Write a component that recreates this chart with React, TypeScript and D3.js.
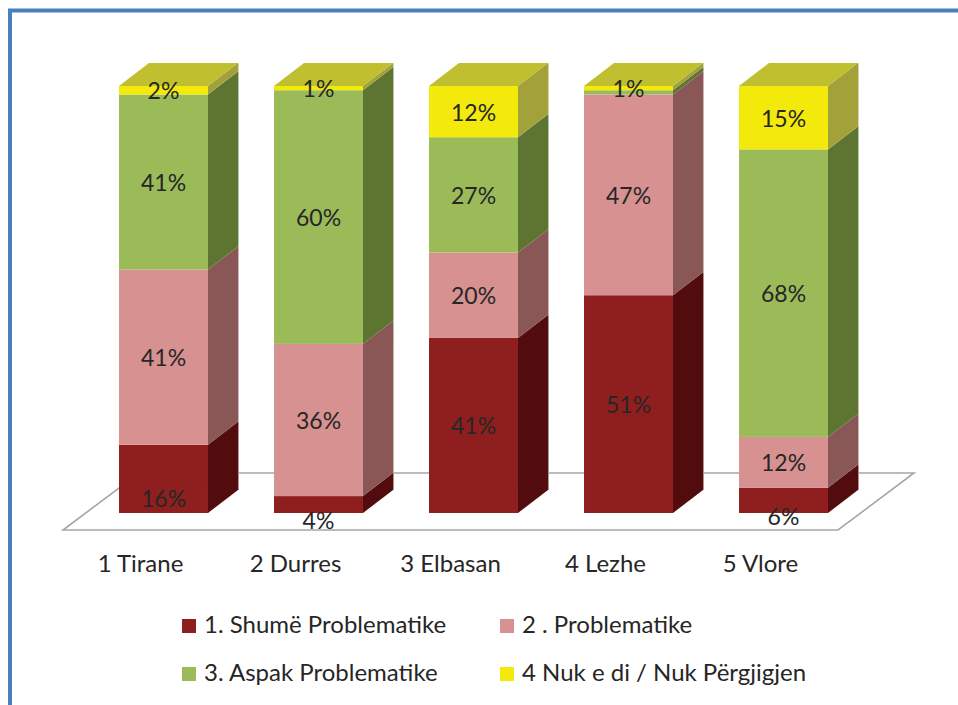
import React from "react";
import * as d3 from "d3";

const categories = ["1 Tirane", "2 Durres", "3 Elbasan", "4 Lezhe", "5 Vlore"];
const seriesNames = [
  "1. Shumë Problematike",
  "2 . Problematike",
  "3. Aspak Problematike",
  "4 Nuk e di / Nuk Përgjigjen",
];
const shumeProblematike = [16, 4, 41, 51, 6];
const problematike = [41, 36, 20, 47, 12];
const aspakProblematike = [41, 60, 27, 1, 68];
const nukDi = [2, 1, 12, 1, 15];

const frontColors = ["#8F1F1F", "#D79190", "#9BBB59", "#F3EA0C"];
const sideColors = ["#520C0D", "#8A5757", "#5E7532", "#A3A23A"];
const topColors = ["#6E1818", "#B07474", "#7E9B40", "#BFBF30"];

const W = 958;
const H = 705;
const FONT = "Lato, 'Open Sans', sans-serif";
const TEXT = "#262626";

// 3D projection offsets
const DEPTH_X = 30;
const DEPTH_Y = 23;
const FLOOR_FRONT = { dx: -23, dy: 17 };
const FLOOR_BACK = { dx: 53, dy: -40 };

export default function App() {
  const seriesValues = [shumeProblematike, problematike, aspakProblematike, nukDi];
  const rows = categories.map((c, i) => {
    const r: any = { cat: c };
    seriesNames.forEach((s, k) => (r[s] = seriesValues[k][i]));
    return r;
  });
  const stacked = d3.stack<any>().keys(seriesNames).offset(d3.stackOffsetExpand)(rows);

  const x = d3
    .scaleBand<string>()
    .domain(categories)
    .range([86, 861])
    .paddingInner(0.426)
    .paddingOuter(0.213);
  const y = d3.scaleLinear().domain([0, 1]).range([513, 86]);
  const bw = x.bandwidth();

  const [r0, r1] = x.range();
  const yb = y(0);
  const floorPts = [
    [r0 + FLOOR_FRONT.dx, yb + FLOOR_FRONT.dy],
    [r1 + FLOOR_FRONT.dx, yb + FLOOR_FRONT.dy],
    [r1 + FLOOR_BACK.dx, yb + FLOOR_BACK.dy],
    [r0 + FLOOR_BACK.dx, yb + FLOOR_BACK.dy],
  ];

  const bars: any[] = [];
  const labels: any[] = [];
  categories.forEach((cat, ci) => {
    const x0 = x(cat)!;
    const x1 = x0 + bw;
    let topIdx = -1;
    stacked.forEach((s, si) => {
      const d = s[ci];
      if (d[1] - d[0] > 0) topIdx = si;
    });
    stacked.forEach((s, si) => {
      const d = s[ci];
      if (d[1] - d[0] <= 0) return;
      const yTop = y(d[1]);
      const yBot = y(d[0]);
      bars.push(
        <g key={`b-${ci}-${si}`}>
          <rect x={x0} y={yTop} width={bw} height={yBot - yTop} fill={frontColors[si]} />
          <polygon
            points={[
              [x1, yBot],
              [x1, yTop],
              [x1 + DEPTH_X, yTop - DEPTH_Y],
              [x1 + DEPTH_X, yBot - DEPTH_Y],
            ]
              .map((p) => p.join(","))
              .join(" ")}
            fill={sideColors[si]}
          />
          <line
            x1={x1 + DEPTH_X + 0.5}
            x2={x1 + DEPTH_X + 0.5}
            y1={yTop - DEPTH_Y}
            y2={yBot - DEPTH_Y}
            stroke={d3.interpolateRgb(sideColors[si], "#ffffff")(0.55)}
            strokeWidth={1}
          />
          {si === topIdx && (
            <polygon
              points={[
                [x0, yTop],
                [x1, yTop],
                [x1 + DEPTH_X, yTop - DEPTH_Y],
                [x0 + DEPTH_X, yTop - DEPTH_Y],
              ]
                .map((p) => p.join(","))
                .join(" ")}
              fill={topColors[si]}
            />
          )}
        </g>
      );
    });
    // labels: from top series downward, skip overlapping ones
    const placed: number[] = [];
    for (let si = stacked.length - 1; si >= 0; si--) {
      const d = stacked[si][ci];
      if (d[1] - d[0] <= 0) continue;
      const yTop = y(d[1]);
      const yBot = y(d[0]);
      const h = yBot - yTop;
      let ly = (yTop + yBot) / 2;
      if (si === 0 && h < 100) ly = yBot - h * 0.43 + 14;
      if (placed.some((p) => Math.abs(p - ly) < 12)) continue;
      placed.push(ly);
      labels.push(
        <text
          key={`l-${ci}-${si}`}
          x={x0 + bw / 2}
          y={ly}
          textAnchor="middle"
          dominantBaseline="central"
          fontFamily={FONT}
          fontSize={23}
          fill={TEXT}
        >
          {seriesValues[si][ci]}%
        </text>
      );
    }
  });

  const legendX = [182, 500];
  const legendY = [619, 667];

  return (
    <svg
      width={W}
      height={H}
      style={{ position: "absolute", left: 0, top: 0, background: "#fff" }}
    >
      <rect x={0} y={0} width={W} height={H} fill="#fff" />
      <rect x={10} y={10.5} width={1200} height={1200} fill="none" stroke="#4A7EBF" strokeWidth={4} />
      <polygon
        points={floorPts.map((p) => p.join(",")).join(" ")}
        fill="#fff"
        stroke="#A6A6A6"
        strokeWidth={1.6}
      />
      {bars}
      {labels}
      {categories.map((c) => (
        <text
          key={c}
          x={x(c)! + bw / 2 + FLOOR_FRONT.dx}
          y={572}
          textAnchor="middle"
          fontFamily={FONT}
          fontSize={24}
          fill={TEXT}
        >
          {c}
        </text>
      ))}
      {seriesNames.map((s, i) => {
        const lx = legendX[i % 2];
        const ly = legendY[Math.floor(i / 2)];
        return (
          <g key={s}>
            <rect x={lx} y={ly} width={14} height={14} fill={frontColors[i]} />
            <text x={lx + 22} y={ly + 14} fontFamily={FONT} fontSize={24} fill={TEXT}>
              {s}
            </text>
          </g>
        );
      })}
    </svg>
  );
}
